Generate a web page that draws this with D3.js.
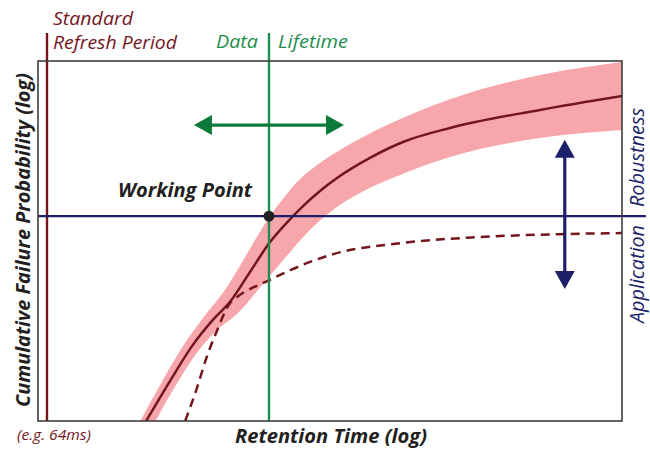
<!DOCTYPE html>
<html>
<head>
<meta charset="utf-8">
<script src="https://cdn.jsdelivr.net/npm/d3@7/dist/d3.min.js"></script>
<style>
  html, body { margin: 0; padding: 0; background: #fff; }
  svg { display: block; }
  text { font-family: "Open Sans", "Noto Sans", sans-serif; }
</style>
</head>
<body>
<div id="chart"></div>
<script>
// ---- Data (arbitrary log units: x = retention time, y = failure probability; 0..100) ----
const solidCurve = [
  [18.3, -0.6], [22.6, 11.1], [26.37, 20.8], [29.79, 27.8], [32.88, 33.1], [36.3, 41.4],
  [39.73, 49.7], [43.66, 56.9], [45.38, 59.7], [48.29, 63.9], [51.2, 67.5], [56.85, 73.1],
  [62.5, 77.5], [70.55, 81.4], [85.96, 86.4], [100.5, 90.4]
];
const bandUpper = [
  [17.2, -1], [21.4, 11.4], [24.83, 20.8], [28.25, 28.6], [31.68, 35.6], [34.59, 43.1],
  [37.16, 50.3], [39.73, 56.9], [41.78, 61.4], [44.52, 66.7], [48.29, 71.7], [52.57, 76.1],
  [59.76, 82.2], [70.55, 89.4], [85.96, 96.1], [100.5, 99.8]
];
const bandLower = [
  [19.8, -1], [24.14, 11.4], [27.57, 19.7], [30.48, 25.0], [34.25, 30.0], [38.36, 37.8],
  [43.15, 46.9], [46.58, 53.1], [50.51, 58.6], [55.14, 63.3], [61.99, 68.3], [70.55, 73.3],
  [85.96, 78.6], [100.5, 80.9]
];
const dashedCurve = [
  [25.2, 0], [27.1, 8.6], [28.9, 17.8], [30.7, 25.3], [32.9, 32.8], [33.9, 34.2],
  [39.7, 39.2], [43.2, 41.9], [50.0, 46.1], [62.0, 49.4], [75.7, 51.1], [89.4, 51.9], [100, 52.2]
];
const refreshX = 1.54;      // standard refresh period
const lifetimeX = 39.55;    // data lifetime
const robustY = 56.9;       // application robustness
const lineTopY = 107.8;     // vertical markers extend above plot
const robustEndX = 104.1;   // horizontal marker extends right of plot
const greenArrow = { y: 82.2, x0: 26.7, x1: 52.4 };
const navyArrow = { x: 90.2, y0: 36.7, y1: 78.1 };
const workingPoint = [lifetimeX, robustY];

// ---- Layout ----
const W = 650, H = 449;
const plot = { left: 38, right: 622, top: 61, bottom: 421 };
const x = d3.scaleLinear().domain([0, 100]).range([plot.left, plot.right]);
const y = d3.scaleLinear().domain([0, 100]).range([plot.bottom, plot.top]);

const C = {
  red: "#74151c", band: "#f7a7ac", green: "#1f8d4e", greenArrow: "#0b7a3b",
  navy: "#1c1f6a", border: "#3f3f3f", text: "#231f20"
};

const svg = d3.select("#chart").append("svg").attr("width", W).attr("height", H);

svg.append("defs").append("clipPath").attr("id", "plotclip")
  .append("rect").attr("x", plot.left).attr("y", plot.top)
  .attr("width", plot.right - plot.left).attr("height", plot.bottom - plot.top);

const g = svg.append("g").attr("clip-path", "url(#plotclip)");

// Band
const mono = d3.line().x(d => x(d[0])).y(d => y(d[1])).curve(d3.curveMonotoneX);
const upPath = mono(bandUpper);
const lowPath = mono(bandLower.slice().reverse());
g.append("path").attr("d", upPath + "L" + lowPath.slice(1) + "Z").attr("fill", C.band);

// Dashed curve
g.append("path").attr("d", mono(dashedCurve)).attr("fill", "none")
  .attr("stroke", C.red).attr("stroke-width", 2.5).attr("stroke-dasharray", "9,6");

// Solid curve
g.append("path").attr("d", mono(solidCurve)).attr("fill", "none")
  .attr("stroke", C.red).attr("stroke-width", 2.5);

// Vertical marker lines
svg.append("line").attr("x1", x(refreshX)).attr("x2", x(refreshX))
  .attr("y1", y(lineTopY)).attr("y2", y(0))
  .attr("stroke", C.red).attr("stroke-width", 2.4);
svg.append("line").attr("x1", x(lifetimeX)).attr("x2", x(lifetimeX))
  .attr("y1", y(lineTopY)).attr("y2", y(0))
  .attr("stroke", C.green).attr("stroke-width", 2.4);

// Horizontal robustness line
svg.append("line").attr("x1", x(0)).attr("x2", x(robustEndX))
  .attr("y1", y(robustY)).attr("y2", y(robustY))
  .attr("stroke", C.navy).attr("stroke-width", 2.4);

// Plot border
svg.append("rect").attr("x", plot.left).attr("y", plot.top)
  .attr("width", plot.right - plot.left).attr("height", plot.bottom - plot.top)
  .attr("fill", "none").attr("stroke", C.border).attr("stroke-width", 1.6);

// Working point
svg.append("circle").attr("cx", x(workingPoint[0])).attr("cy", y(workingPoint[1]))
  .attr("r", 5.5).attr("fill", "#231f20");

// Arrows
const headL = 18, headW = 10;
function hArrow(yv, xa, xb, color) {
  const py = y(yv), pa = x(xa), pb = x(xb);
  svg.append("line").attr("x1", pa + headL - 1).attr("x2", pb - headL + 1)
    .attr("y1", py).attr("y2", py).attr("stroke", color).attr("stroke-width", 3.2);
  svg.append("path").attr("fill", color)
    .attr("d", `M${pa},${py}L${pa + headL},${py - headW}L${pa + headL},${py + headW}Z`);
  svg.append("path").attr("fill", color)
    .attr("d", `M${pb},${py}L${pb - headL},${py - headW}L${pb - headL},${py + headW}Z`);
}
function vArrow(xv, ya, yb, color) {
  const px = x(xv), pa = y(ya), pb = y(yb); // pa bottom, pb top
  svg.append("line").attr("x1", px).attr("x2", px)
    .attr("y1", pb + headL - 1).attr("y2", pa - headL + 1)
    .attr("stroke", color).attr("stroke-width", 3.2);
  svg.append("path").attr("fill", color)
    .attr("d", `M${px},${pb}L${px - headW},${pb + headL}L${px + headW},${pb + headL}Z`);
  svg.append("path").attr("fill", color)
    .attr("d", `M${px},${pa}L${px - headW},${pa - headL}L${px + headW},${pa - headL}Z`);
}
hArrow(greenArrow.y, greenArrow.x0, greenArrow.x1, C.greenArrow);
vArrow(navyArrow.x, navyArrow.y0, navyArrow.y1, C.navy);

// ---- Text ----
function label(txt, px, py, opts) {
  const t = svg.append("text").attr("x", px).attr("y", py).text(txt)
    .attr("font-size", opts.size).attr("font-style", "italic")
    .attr("font-weight", opts.bold ? 700 : 400)
    .attr("fill", opts.color);
  if (opts.len) t.attr("textLength", opts.len).attr("lengthAdjust", "spacingAndGlyphs");
  if (opts.rotate) t.attr("transform", `rotate(-90,${px},${py})`);
  if (opts.anchor) t.attr("text-anchor", opts.anchor);
  return t;
}
label("Standard", 53, 25, { size: 17.5, color: C.red, len: 80 });
label("Refresh Period", 53, 49, { size: 17.5, color: C.red, len: 124 });
label("Data", 216, 48, { size: 19, color: C.green, len: 42 });
label("Lifetime", 278, 48, { size: 19, color: C.green, len: 70 });
label("Working Point", 118, 197, { size: 19, bold: true, color: C.text, len: 134 });
label("Retention Time (log)", 235, 443, { size: 19, bold: true, color: C.text, len: 192 });
label("(e.g. 64ms)", 17, 440, { size: 14, color: C.red, len: 74 });
label("Cumulative Failure Probability (log)", 30, 240,
  { size: 19, bold: true, color: C.text, len: 334, rotate: true, anchor: "middle" });
label("Robustness", 644, 207, { size: 20, color: C.navy, len: 99, rotate: true });
label("Application", 644, 323, { size: 20, color: C.navy, len: 98, rotate: true });
</script>
</body>
</html>
